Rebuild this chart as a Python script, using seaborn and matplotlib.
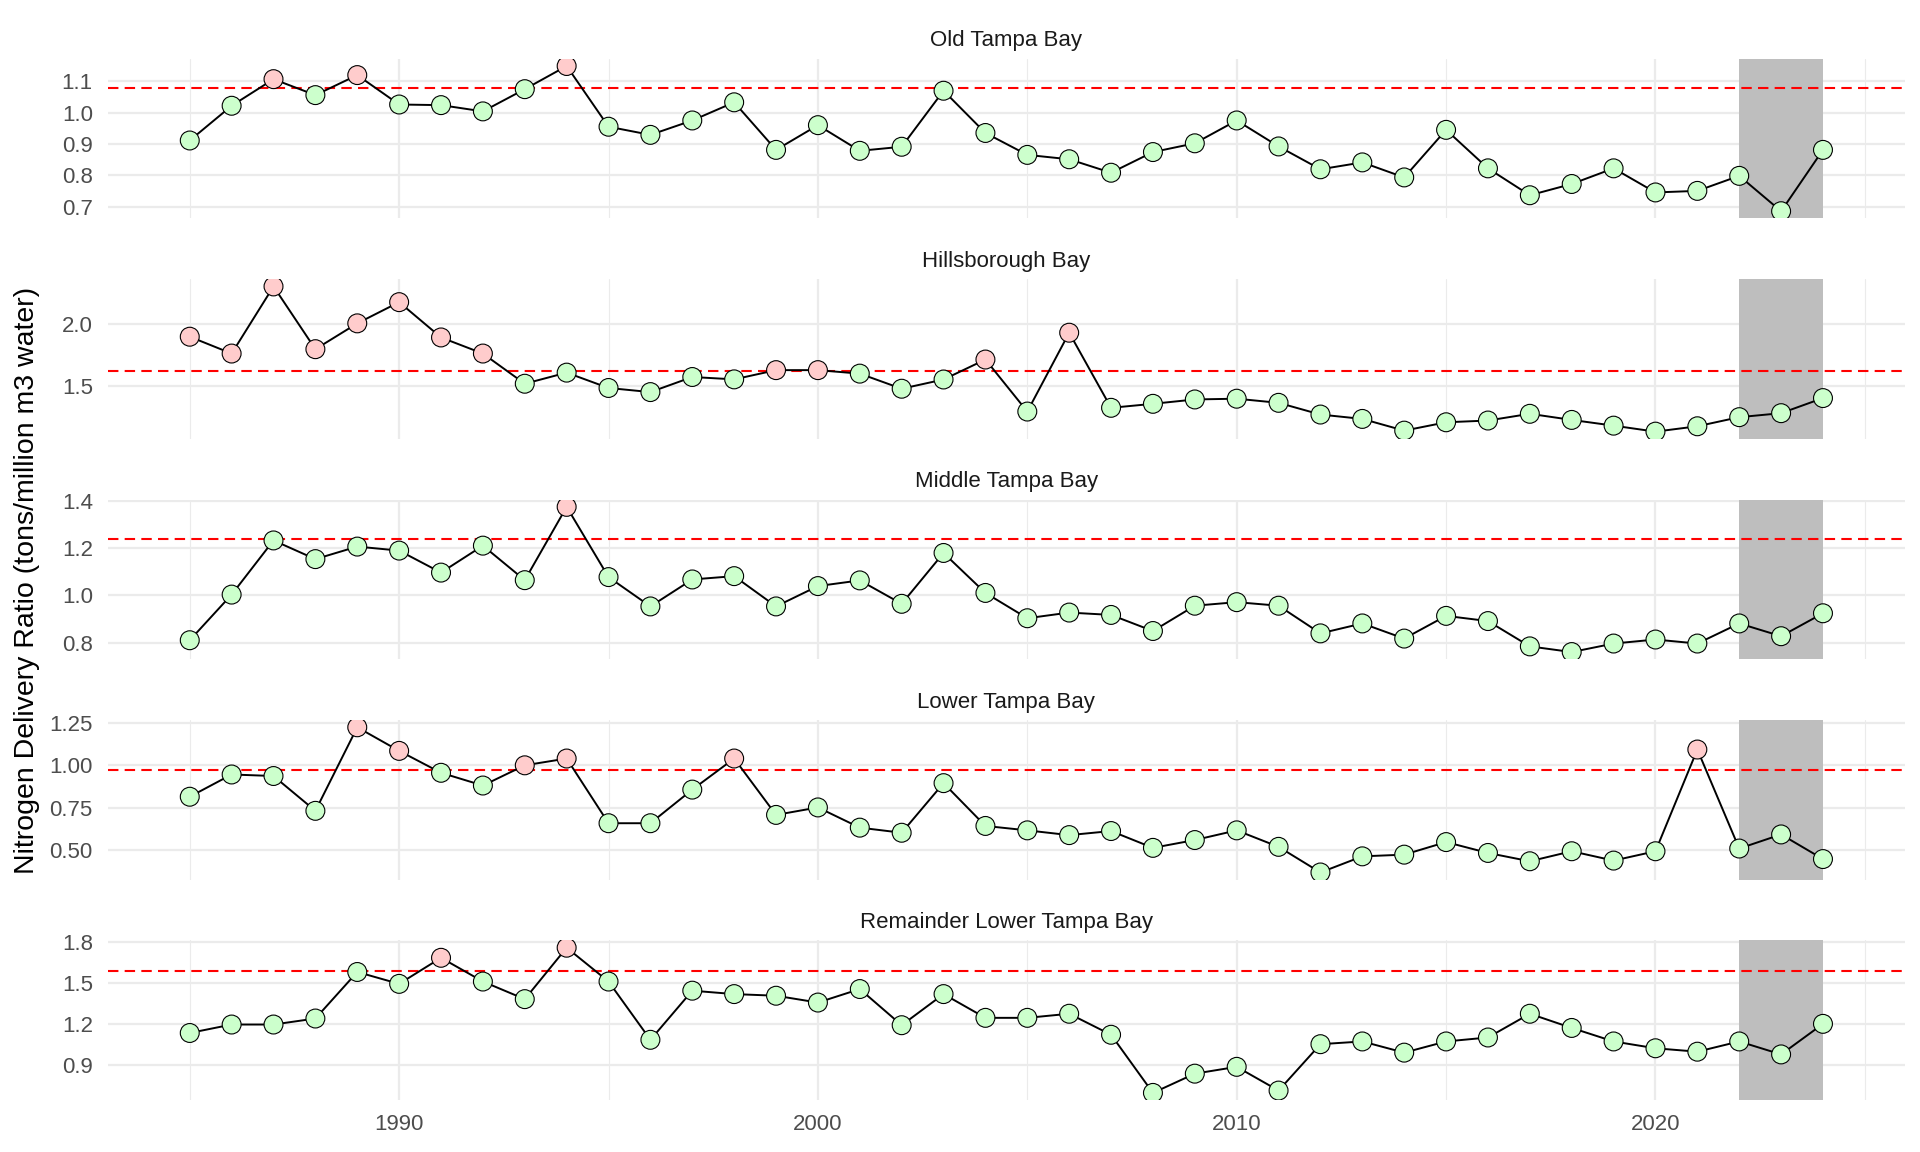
import numpy as np
import pandas as pd
import matplotlib
matplotlib.use('Agg')
import matplotlib.pyplot as plt
import seaborn as sns

# Dados
years = list(range(1985, 2025))

bays = ['Old Tampa Bay', 'Hillsborough Bay', 'Middle Tampa Bay',
        'Lower Tampa Bay', 'Remainder Lower Tampa Bay']

old_tampa = [0.911, 1.022, 1.107, 1.056, 1.120, 1.026, 1.024, 1.004, 1.075, 1.149,
             0.955, 0.929, 0.975, 1.033, 0.881, 0.960, 0.878, 0.891, 1.070, 0.935,
             0.865, 0.851, 0.808, 0.874, 0.902, 0.975, 0.892, 0.819, 0.841, 0.793,
             0.945, 0.822, 0.736, 0.772, 0.822, 0.745, 0.750, 0.798, 0.685, 0.881]

hillsborough = [1.898, 1.763, 2.301, 1.798, 2.005, 2.175, 1.892, 1.763, 1.521, 1.610,
                1.487, 1.454, 1.575, 1.556, 1.630, 1.630, 1.602, 1.481, 1.555, 1.715,
                1.298, 1.930, 1.328, 1.360, 1.395, 1.401, 1.368, 1.274, 1.239, 1.145,
                1.212, 1.226, 1.280, 1.231, 1.185, 1.137, 1.180, 1.253, 1.285, 1.406]

middle_tampa = [0.810, 1.003, 1.232, 1.153, 1.206, 1.189, 1.096, 1.210, 1.064, 1.374,
                1.077, 0.953, 1.067, 1.081, 0.953, 1.039, 1.063, 0.964, 1.179, 1.010,
                0.903, 0.927, 0.917, 0.849, 0.956, 0.971, 0.956, 0.839, 0.881, 0.817,
                0.913, 0.891, 0.784, 0.760, 0.796, 0.813, 0.796, 0.881, 0.827, 0.924]

lower_tampa = [0.815, 0.946, 0.937, 0.732, 1.224, 1.085, 0.956, 0.881, 1.000, 1.040,
               0.659, 0.659, 0.857, 1.040, 0.708, 0.752, 0.633, 0.603, 0.895, 0.643,
               0.617, 0.589, 0.613, 0.514, 0.560, 0.617, 0.520, 0.369, 0.464, 0.474,
               0.548, 0.484, 0.435, 0.494, 0.439, 0.494, 1.093, 0.510, 0.593, 0.448]

remainder_lower = [1.133, 1.195, 1.195, 1.239, 1.580, 1.493, 1.684, 1.510, 1.381, 1.758,
                   1.510, 1.083, 1.443, 1.418, 1.406, 1.356, 1.455, 1.190, 1.418, 1.244,
                   1.244, 1.274, 1.120, 0.694, 0.835, 0.885, 0.711, 1.051, 1.071, 0.989,
                   1.071, 1.100, 1.274, 1.170, 1.071, 1.021, 0.996, 1.071, 0.976, 1.200]

thresholds = [1.08, 1.62, 1.24, 0.97, 1.59]

y_ticks = [
    [0.7, 0.8, 0.9, 1.0, 1.1],
    [1.5, 2.0],
    [0.8, 1.0, 1.2, 1.4],
    [0.50, 0.75, 1.00, 1.25],
    [0.9, 1.2, 1.5, 1.8],
]
y_fmt = ['{:.1f}', '{:.1f}', '{:.1f}', '{:.2f}', '{:.1f}']

series = [old_tampa, hillsborough, middle_tampa, lower_tampa, remainder_lower]

df = pd.concat([
    pd.DataFrame({'year': years, 'ratio': vals, 'bay': bay})
    for bay, vals in zip(bays, series)
], ignore_index=True)

sns.set_theme(style='white')
plt.rcParams['font.family'] = ['Liberation Sans', 'DejaVu Sans']

fig, axes = plt.subplots(5, 1, figsize=(19.2, 11.52), dpi=100, sharex=True)
fig.subplots_adjust(left=0.0563, right=0.992, top=0.949, bottom=0.045, hspace=0.38)

for ax, bay, thr, ticks, fmt in zip(axes, bays, thresholds, y_ticks, y_fmt):
    sub = df[df['bay'] == bay].copy()
    sub['above'] = sub['ratio'] > thr

    # Grade
    ax.set_axisbelow(True)
    ax.grid(True, which='major', axis='both', color='#EBEBEB', linewidth=1.6)
    ax.grid(True, which='minor', axis='x', color='#EBEBEB', linewidth=0.8)

    ax.axvspan(2022, 2024, color='#BEBEBE', zorder=1, lw=0)
    ax.axhline(thr, color='red', linestyle=(0, (5, 3)), linewidth=1.5, zorder=2)

    sns.lineplot(data=sub, x='year', y='ratio', color='black', linewidth=1.4,
                 ax=ax, zorder=3)
    sns.scatterplot(data=sub, x='year', y='ratio', hue='above',
                    palette={False: '#CCFFCC', True: '#FFCCCC'},
                    s=185, edgecolor='black', linewidth=0.8, legend=False,
                    ax=ax, zorder=4)

    ax.set_yticks(ticks)
    ax.set_yticklabels([fmt.format(t) for t in ticks])
    ax.set_title(bay, fontsize=16, color='#1A1A1A', pad=9)
    ax.set_xlabel('')
    ax.set_ylabel('')
    for s in ax.spines.values():
        s.set_visible(False)
    ax.tick_params(axis='both', which='both', length=0, labelsize=16,
                   labelcolor='#4D4D4D')
    ax.tick_params(axis='y', pad=11)
    ax.tick_params(axis='x', pad=10)

axes[-1].set_xlim(1983.05, 2025.95)
axes[-1].set_xticks([1990, 2000, 2010, 2020])
axes[-1].set_xticks([1985, 1995, 2005, 2015, 2025], minor=True)

fig.text(0.014, 0.4965, 'Nitrogen Delivery Ratio (tons/million m3 water)',
         rotation=90, va='center', ha='center', fontsize=20.5, color='black')

fig.savefig('out.png', dpi=100)
